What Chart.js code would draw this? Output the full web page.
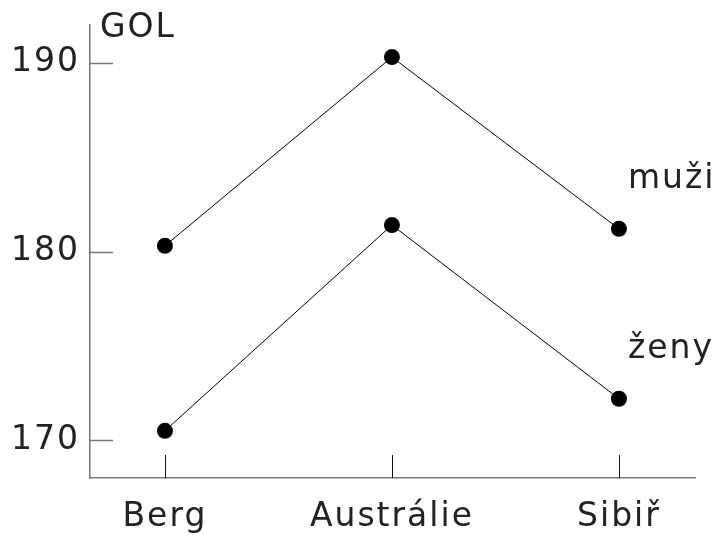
<!DOCTYPE html>
<html>
<head>
<meta charset="utf-8">
<script src="https://cdn.jsdelivr.net/npm/chart.js@4.4.0/dist/chart.umd.min.js"></script>
<style>
  html, body { margin: 0; padding: 0; background: #fff; }
  #wrap { width: 718px; height: 535px; }
</style>
</head>
<body>
<div id="wrap"><canvas id="chart" width="718" height="535"></canvas></div>
<script>
// data
const places = ["Berg", "Austrálie", "Sibiř"];
const muzi = [180.3, 190.3, 181.2];
const zeny = [170.5, 181.4, 172.2];
const yTicks = [170, 180, 190];
const seriesNames = ["muži", "ženy"];
const axisTitle = "GOL";

const FONT = "'DejaVu Sans', sans-serif";
const textColor = "#222";

// inward ticks, series names, axis title
const extras = {
  id: "extras",
  beforeDraw(chart) {
    chart.ctx.letterSpacing = "2px";
  },
  afterDraw(chart) {
    const ctx = chart.ctx;
    const area = chart.chartArea;
    const x = chart.scales.x;
    const y = chart.scales.y;
    ctx.save();

    // y ticks, grey, pointing into the plot
    ctx.strokeStyle = "#777";
    ctx.lineWidth = 1.5;
    yTicks.forEach(function (v) {
      const py = Math.round(y.getPixelForValue(v)) + 0.5;
      ctx.beginPath();
      ctx.moveTo(area.left, py);
      ctx.lineTo(area.left + 23, py);
      ctx.stroke();
    });

    // x ticks, black, pointing up
    ctx.strokeStyle = "#111";
    ctx.lineWidth = 1;
    places.forEach(function (p, i) {
      const px = Math.round(x.getPixelForValue(i)) + 0.5;
      ctx.beginPath();
      ctx.moveTo(px, area.bottom);
      ctx.lineTo(px, area.bottom - 23);
      ctx.stroke();
    });

    ctx.fillStyle = textColor;
    ctx.font = "33px " + FONT;
    ctx.letterSpacing = "2px";
    ctx.textAlign = "left";
    ctx.textBaseline = "alphabetic";
    ctx.fillText(axisTitle, area.left + 10, 37);

    // series names next to the last point
    chart.data.datasets.forEach(function (ds, i) {
      const pt = chart.getDatasetMeta(i).data[ds.data.length - 1];
      ctx.fillText(seriesNames[i], pt.x + 9, pt.y - 41);
    });
    ctx.restore();
  }
};

new Chart(document.getElementById("chart"), {
  type: "line",
  data: {
    datasets: [muzi, zeny].map(function (vals, i) {
      return {
        label: seriesNames[i],
        data: vals.map(function (v, j) { return { x: j, y: v }; }),
        borderColor: "#000",
        borderWidth: 1,
        backgroundColor: "#000",
        pointRadius: 8,
        pointBorderWidth: 0,
        fill: false,
        tension: 0
      };
    })
  },
  options: {
    responsive: false,
    animation: false,
    layout: { padding: { top: 25, right: 23, left: 0, bottom: 0 } },
    plugins: { legend: { display: false }, tooltip: { enabled: false } },
    scales: {
      x: {
        type: "linear",
        min: -0.33,
        max: 2.335,
        afterBuildTicks(scale) {
          scale.ticks = places.map(function (p, i) { return { value: i }; });
        },
        afterFit(scale) {
          scale.height = 57;
          scale.paddingLeft = 0;
          scale.paddingRight = 0;
        },
        grid: { display: false, drawTicks: false },
        border: { color: "#777", width: 1.5 },
        ticks: {
          padding: 20,
          color: textColor,
          font: { family: FONT, size: 33 },
          maxRotation: 0,
          callback: function (v) { return places[v]; }
        }
      },
      y: {
        min: 168,
        max: 192,
        afterBuildTicks(scale) {
          scale.ticks = yTicks.map(function (v) { return { value: v }; });
        },
        afterFit(scale) {
          scale.width = 90;
          scale.paddingTop = 0;
          scale.paddingBottom = 0;
        },
        grid: { display: false, drawTicks: false },
        border: { color: "#777", width: 1.5 },
        ticks: {
          padding: 10,
          color: textColor,
          font: { family: FONT, size: 33 }
        }
      }
    }
  },
  plugins: [extras]
});
</script>
</body>
</html>
